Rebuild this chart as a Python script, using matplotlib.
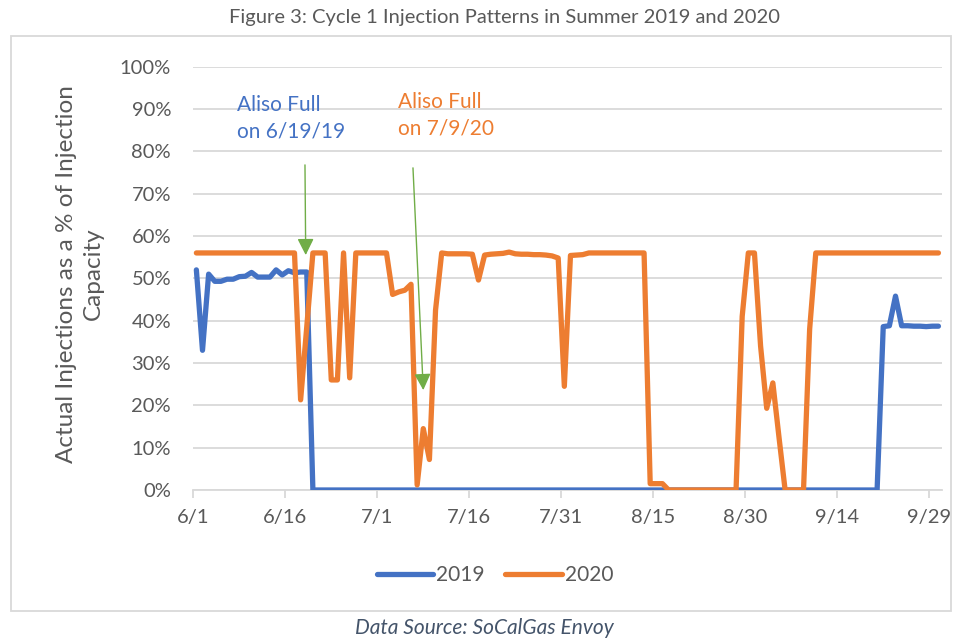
import numpy as np
import matplotlib
matplotlib.use("Agg")
import matplotlib.pyplot as plt
from matplotlib.ticker import PercentFormatter
from matplotlib.patches import Rectangle
from matplotlib.lines import Line2D

# ---------------- data (percent of injection capacity, daily 6/1 .. 9/30) ----------------
tick_labels = ["6/1", "6/16", "7/1", "7/16", "7/31", "8/15", "8/30", "9/14", "9/29"]
tick_days = [0, 15, 30, 45, 60, 75, 90, 105, 120]

y2019 = [
    52.0, 33.0, 51.0, 49.3, 49.3, 49.8, 49.8, 50.4, 50.5, 51.4,
    50.3, 50.3, 50.3, 52.0, 50.8, 51.8, 51.3, 51.5, 51.5, 0.0,
    0.0, 0.0, 0.0, 0.0, 0.0, 0.0, 0.0, 0.0, 0.0, 0.0,
    0.0, 0.0, 0.0, 0.0, 0.0, 0.0, 0.0, 0.0, 0.0, 0.0,
    0.0, 0.0, 0.0, 0.0, 0.0, 0.0, 0.0, 0.0, 0.0, 0.0,
    0.0, 0.0, 0.0, 0.0, 0.0, 0.0, 0.0, 0.0, 0.0, 0.0,
    0.0, 0.0, 0.0, 0.0, 0.0, 0.0, 0.0, 0.0, 0.0, 0.0,
    0.0, 0.0, 0.0, 0.0, 0.0, 0.0, 0.0, 0.0, 0.0, 0.0,
    0.0, 0.0, 0.0, 0.0, 0.0, 0.0, 0.0, 0.0, 0.0, 0.0,
    0.0, 0.0, 0.0, 0.0, 0.0, 0.0, 0.0, 0.0, 0.0, 0.0,
    0.0, 0.0, 0.0, 0.0, 0.0, 0.0, 0.0, 0.0, 0.0, 0.0,
    0.0, 0.0, 38.6, 38.8, 45.8, 38.8, 38.8, 38.7, 38.7, 38.6,
    38.7, 38.7,
]

y2020 = [
    56.0, 56.0, 56.0, 56.0, 56.0, 56.0, 56.0, 56.0, 56.0, 56.0,
    56.0, 56.0, 56.0, 56.0, 56.0, 56.0, 56.0, 21.3, 38.5, 56.0,
    56.0, 56.0, 26.0, 26.0, 56.0, 26.5, 56.0, 56.0, 56.0, 56.0,
    56.0, 56.0, 46.2, 46.8, 47.2, 48.6, 1.2, 14.5, 7.2, 42.5,
    56.0, 55.8, 55.8, 55.8, 55.8, 55.7, 49.6, 55.5, 55.7, 55.8,
    55.9, 56.2, 55.8, 55.7, 55.7, 55.6, 55.6, 55.5, 55.3, 54.8,
    24.5, 55.4, 55.5, 55.6, 56.0, 56.0, 56.0, 56.0, 56.0, 56.0,
    56.0, 56.0, 56.0, 56.0, 1.5, 1.5, 1.5, 0.0, 0.0, 0.0,
    0.0, 0.0, 0.0, 0.0, 0.0, 0.0, 0.0, 0.0, 0.0, 41.0,
    56.0, 56.0, 34.0, 19.3, 25.3, 12.5, 0.0, 0.0, 0.0, 0.0,
    38.0, 56.0, 56.0, 56.0, 56.0, 56.0, 56.0, 56.0, 56.0, 56.0,
    56.0, 56.0, 56.0, 56.0, 56.0, 56.0, 56.0, 56.0, 56.0, 56.0,
    56.0, 56.0,
]

series_names = ["2019", "2020"]

# ---------------- style ----------------
BLUE = "#4472C4"
ORANGE = "#ED7D31"
GREEN = "#70AD47"
GRID = "#D9D9D9"
TXT = "#595959"

plt.rcParams['font.family'] = ['Lato', 'DejaVu Sans']

W, H = 960, 639
fig = plt.figure(figsize=(W / 100, H / 100), dpi=100)

def fx(px):
    return px / W

def fy(py):
    return 1 - py / H

# chart border
fig.patches.append(Rectangle((fx(11), fy(611)), fx(951) - fx(11), fy(36) - fy(611),
                             transform=fig.transFigure, fill=False,
                             edgecolor=GRID, linewidth=1.3, zorder=0))

ax = fig.add_axes([fx(193.3), fy(490), fx(941.5) - fx(193.3), fy(66.7) - fy(490)])

x = np.arange(len(y2019)) + 0.5
lw = 3.8
ax.plot(x, np.array(y2019) / 100, color=BLUE, lw=lw, solid_joinstyle='round',
        solid_capstyle='round', label=series_names[0], zorder=3)
ax.plot(x, np.array(y2020) / 100, color=ORANGE, lw=lw, solid_joinstyle='round',
        solid_capstyle='round', label=series_names[1], zorder=4)

ax.set_xlim(0, len(y2019))
ax.set_ylim(0, 1)
ax.set_yticks(np.arange(0, 1.001, 0.1))
ax.yaxis.set_major_formatter(PercentFormatter(1, decimals=0))
ax.set_xticks(tick_days)
ax.set_xticklabels(tick_labels)

for s in ["left", "right", "top"]:
    ax.spines[s].set_visible(False)
ax.spines["bottom"].set_color(GRID)
ax.spines["bottom"].set_linewidth(1.3)
ax.grid(axis="y", color=GRID, linewidth=1.3)
ax.set_axisbelow(True)
ax.tick_params(axis="y", length=0, pad=16, labelsize=14.5, labelcolor=TXT)
ax.tick_params(axis="x", length=6, width=1.3, color=GRID, pad=8, labelsize=14.5,
               labelcolor=TXT)

fig.text(fx(80), fy(274), "Actual Injections as a % of Injection\nCapacity",
         rotation=90, ha="center", va="center", fontsize=17.5, color=TXT,
         linespacing=1.3, multialignment="center")

# annotations
ax.text(7.2, 0.878, "Aliso Full\non 6/19/19", color=BLUE, fontsize=15,
        va="center", ha="left", linespacing=1.42)
ax.text(33.3, 0.886, "Aliso Full\non 7/9/20", color=ORANGE, fontsize=15,
        va="center", ha="left", linespacing=1.42)
ax.annotate("", xy=(18.33, 0.555), xytext=(18.21, 0.768),
            arrowprops=dict(arrowstyle="-|>,head_length=1.0,head_width=0.5",
                            color=GREEN, lw=1.0, shrinkA=0, shrinkB=0), zorder=6)
ax.annotate("", xy=(37.5, 0.236), xytext=(35.82, 0.761),
            arrowprops=dict(arrowstyle="-|>,head_length=1.0,head_width=0.5",
                            color=GREEN, lw=1.0, shrinkA=0, shrinkB=0), zorder=6)

# legend
handles = [Line2D([], [], color=BLUE, lw=lw, solid_capstyle='round'),
           Line2D([], [], color=ORANGE, lw=lw, solid_capstyle='round')]
fig.legend(handles, series_names, loc="center", bbox_to_anchor=(fx(495), fy(575)),
           ncol=2, frameon=False, fontsize=15, labelcolor=TXT, handlelength=2.7,
           handletextpad=0.15, columnspacing=1.0)

# title and source
fig.text(fx(505), fy(18), "Figure 3: Cycle 1 Injection Patterns in Summer 2019 and 2020",
         ha="center", va="center", fontsize=14.5, color=TXT)
fig.text(fx(484), fy(628), "Data Source: SoCalGas Envoy", ha="center", va="center",
         fontsize=15, color="#44546A", style="italic")

fig.savefig("out.png", dpi=100)
